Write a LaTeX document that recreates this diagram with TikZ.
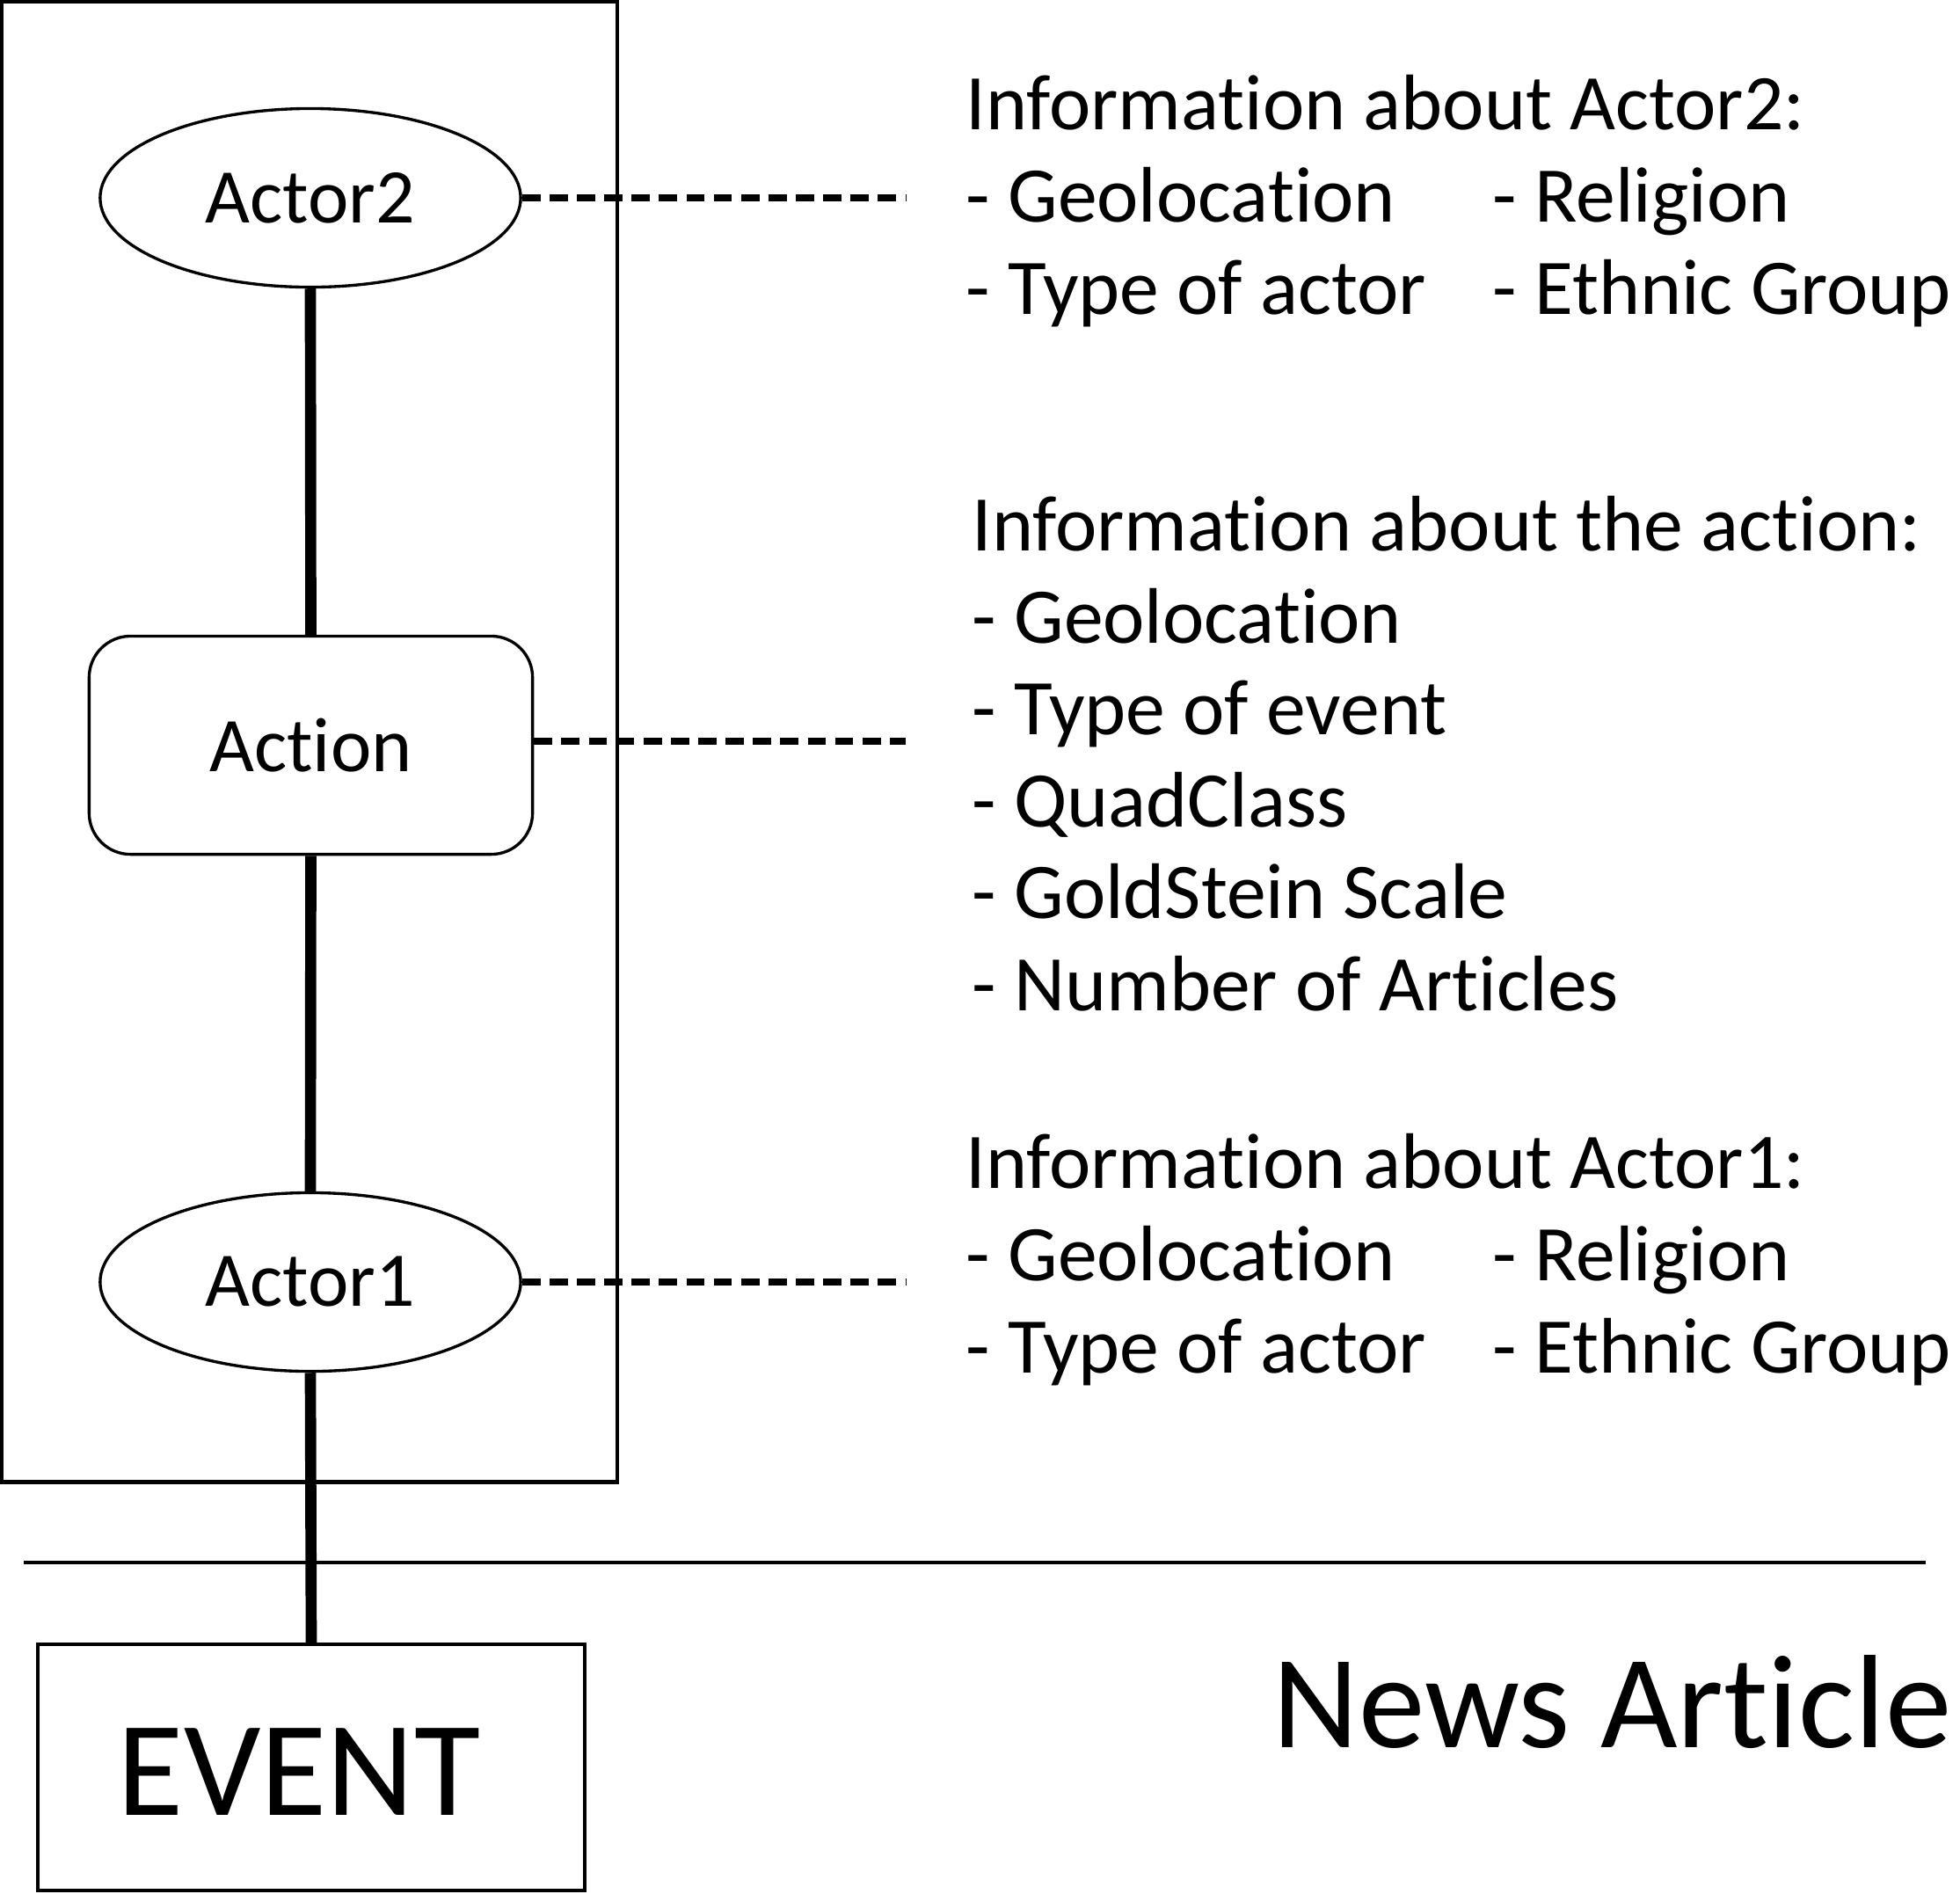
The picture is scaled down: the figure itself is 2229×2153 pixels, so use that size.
\documentclass[tikz,border=0pt]{standalone}
\usepackage{fontspec}
\setmainfont[Ligatures=NoCommon]{Carlito}
\usetikzlibrary{shapes.geometric}
\begin{document}
\begin{tikzpicture}[x=0.01cm,y=-0.01cm,
  bodyfont/.style={font=\fontsize{25}{30}\selectfont},
  infofont/.style={font=\fontsize{25.5}{30}\selectfont},
  frameline/.style={draw, line width=1.28pt},
  actor/.style={ellipse, draw, line width=0.95pt, minimum width=4.78cm, minimum height=2.03cm, inner sep=0pt, bodyfont},
  actionbox/.style={rectangle, rounded corners=0.47cm, draw, line width=0.95pt, minimum width=5.04cm, minimum height=2.48cm, inner sep=0pt, bodyfont},
  link/.style={line width=3.6pt},
  infolink/.style={line width=2.3pt, dash pattern=on 5.9pt off 2.95pt},
  info/.style={anchor=base west, inner sep=0pt, infofont},
]
\useasboundingbox (0,0) rectangle (2229,2153);

% frame around the event structure
\node[frameline, rectangle, minimum width=7.00cm, minimum height=16.83cm, inner sep=0pt] (frame) at (352,843.5) {};

% main nodes
\node[actor] (actor2) at (353,225) {Actor2};
\node[actionbox] (action) at (353.5,847.5) {Action};
\node[actor] (actor1) at (353,1458) {Actor1};
\node[frameline, rectangle, minimum width=6.215cm, minimum height=2.795cm, inner sep=0pt] (event) at (354,2010) {};
\node[anchor=base, inner sep=0pt, font=\fontsize{43.8}{50}\selectfont] (eventlabel) at (340,2064) {EVENT};

% separator line
\coordinate (sepL) at (27,1777);
\coordinate (sepR) at (2190,1777);
\draw[line width=1.32pt] (sepL) -- (sepR);

% vertical connectors
\draw[link] (actor2.south) -- (action.north);
\draw[link] (action.south) -- (actor1.north);
\draw[link] (actor1.south) -- (event.north);

% dashed links to information
\coordinate (d2) at (1030,225);
\coordinate (da) at (1030,843);
\coordinate (d1) at (1030,1458);
\draw[infolink] (actor2.east) -- (d2);
\draw[infolink] (action.east |- da) -- (da);
\draw[infolink] (actor1.east) -- (d1);

% information about Actor2
\node[info] (i2t) at (1098,147) {Information about Actor2:};
\node[info] (i2a) at (1098,252) {- Geolocation};
\node[info] (i2b) at (1697,252) {- Religion};
\node[info] (i2c) at (1098,357) {- Type of actor};
\node[info] (i2d) at (1697,357) {- Ethnic Group};

% information about the action
\node[info] (iat) at (1105,626) {Information about the action:};
\node[info] (iaa) at (1105,731) {- Geolocation};
\node[info] (iab) at (1105,835) {- Type of event};
\node[info] (iac) at (1105,940) {- QuadClass};
\node[info] (iad) at (1105,1044) {- GoldStein Scale};
\node[info] (iae) at (1105,1149) {- Number of Articles};

% information about Actor1
\node[info] (i1t) at (1098,1351) {Information about Actor1:};
\node[info] (i1a) at (1098,1456) {- Geolocation};
\node[info] (i1b) at (1697,1456) {- Religion};
\node[info] (i1c) at (1098,1561) {- Type of actor};
\node[info] (i1d) at (1697,1561) {- Ethnic Group};

% label of the lower part
\node[anchor=base west, inner sep=0pt, font=\fontsize{43}{50}\selectfont] (news) at (1447,1987) {News Article};
\end{tikzpicture}
\end{document}
